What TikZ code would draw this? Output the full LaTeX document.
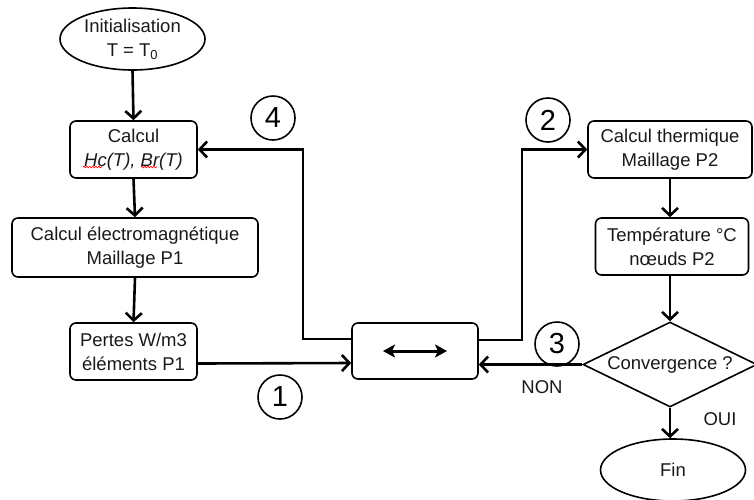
\documentclass[tikz,border=0pt]{standalone}
\usepackage{fontspec}
\setmainfont{Liberation Sans}
\usetikzlibrary{shapes.geometric,arrows.meta,decorations.pathmorphing}
\begin{document}
\begin{tikzpicture}[x=1pt,y=-1pt,
  txt/.style={font=\fontsize{18.5pt}{24pt}\selectfont, align=center, text=black!90, inner sep=0pt},
  box/.style={txt, draw, line width=1.6pt, rounded corners=6pt, rectangle},
  oval/.style={txt, draw, line width=1.6pt, ellipse},
  rhomb/.style={txt, draw, line width=1.6pt, diamond, aspect=2.05},
  arr/.style={line width=2.6pt, -{Straight Barb[length=7.5pt,width=16pt]}},
  num/.style={draw, circle, line width=1.6pt, minimum size=44pt, inner sep=0pt, font=\fontsize{29pt}{32pt}\selectfont},
  lbl/.style={font=\fontsize{18.5pt}{22pt}\selectfont, text=black!90, inner sep=0pt},
  wavy/.style={red, line width=0.7pt, decorate, decoration={snake, amplitude=0.8pt, segment length=3pt}}
]
\useasboundingbox (0,0) rectangle (754,499);

\node[oval, minimum width=145pt, minimum height=62pt] (init) at (132.5,39) {Initialisation\\T = T\textsubscript{0}};
\node[box, minimum width=127pt, minimum height=57pt] (calc) at (133.5,149.5) {Calcul\\\textit{Hc(T), Br(T)}};
\node[box, minimum width=246pt, minimum height=59pt] (em) at (135,247.5) {Calcul électromagnétique\\Maillage P1};
\node[box, minimum width=127pt, minimum height=57pt] (pertes) at (133.5,351.5) {Pertes W/m3\\éléments P1};
\node[box, minimum width=126pt, minimum height=56pt] (mid) at (415,351) {};
\node[box, minimum width=164pt, minimum height=57pt] (therm) at (670,149.5) {Calcul thermique\\Maillage P2};
\node[box, minimum width=153pt, minimum height=57pt] (temp) at (672,246.5) {Température °C\\nœuds P2};
\node[rhomb, minimum width=174pt, minimum height=85pt] (conv) at (670,364.5) {Convergence ?};
\node[oval, minimum width=145pt, minimum height=62pt] (fin) at (673,470) {Fin};

% red spell-check underlines
\draw[wavy] (83,167) -- (102,167);
\draw[wavy] (141,167) -- (157,167);

% connectors
\draw[arr] (init.south) -- (calc.north);
\draw[arr] (calc.south) -- (em.north);
\draw[arr] (em.south) -- (pertes.north);
\draw[arr] ([yshift=-12pt]pertes.east) -- ([yshift=-12pt]mid.west);
\coordinate (k4) at (303,149.5);
\draw[arr] ([yshift=12pt]mid.west) -| (k4) -- (calc.east);
\coordinate (k2) at (522,149.5);
\draw[arr] ([yshift=11pt]mid.east) -| (k2) -- (therm.west);
\draw[arr] (therm.south) -- (therm.south |- temp.north);
\draw[arr] (temp.south -| conv.north) -- (conv.north);
\draw[arr] (conv.west) -- (conv.west -| mid.east);
\draw[arr] (conv.south) -- (conv.south |- fin.north);
\draw[line width=3pt, {Stealth[length=12pt,width=13pt,inset=3pt]}-{Stealth[length=12pt,width=13pt,inset=3pt]}] ([xshift=-32pt]mid.center) -- ([xshift=32pt]mid.center);

% labels
\node[lbl] (non) at (542,387) {NON};
\node[lbl] (oui) at (720,419) {OUI};

% circled numbers
\node[num] (n1) at (280,397) {1};
\node[num] (n4) at (273,118) {4};
\node[num] (n2) at (548,120) {2};
\node[num] (n3) at (557,344) {3};
\end{tikzpicture}
\end{document}
